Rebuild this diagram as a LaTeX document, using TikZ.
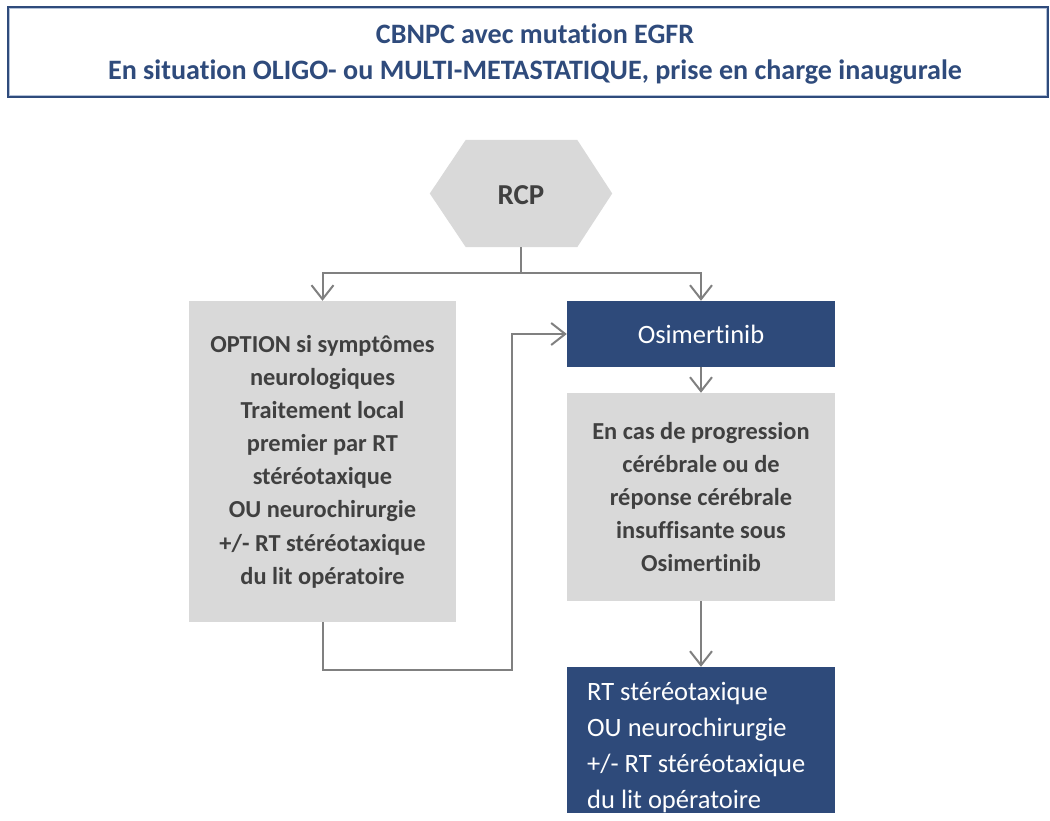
\documentclass[tikz,border=0pt]{standalone}
\usepackage{fontspec}
\setmainfont{Carlito}[Ligatures={NoCommon}]
\usetikzlibrary{arrows.meta,backgrounds,calc}
\definecolor{navy}{HTML}{2E4A7A}
\definecolor{titleblue}{HTML}{2F4B7C}
\definecolor{titlelight}{HTML}{B4C2D8}
\definecolor{boxgray}{HTML}{D9D9D9}
\definecolor{txtgray}{HTML}{404040}
\definecolor{linegray}{HTML}{808080}
\begin{document}
\begin{tikzpicture}[x=1bp,y=-1bp,
  graybox/.style={fill=boxgray, text=txtgray, font=\bfseries\fontsize{24.5}{33.3}\selectfont, align=center, inner sep=0pt},
  navybox/.style={fill=navy, text=white, font=\fontsize{26.6}{36.3}\selectfont, inner sep=0pt},
  conn/.style={draw=linegray, line width=2bp},
  arr/.style={conn, -{Straight Barb[length=14bp,width=22bp,line width=2bp]}}]
\useasboundingbox (0,0) rectangle (1050,821);
% title
\node[draw=titleblue, line width=2.5bp, minimum width=1040bp, minimum height=90bp, inner sep=0pt] (title) at (528,52) {};
\draw[titlelight, line width=1bp] ([shift={(2.5bp,-2.5bp)}]title.north west) rectangle ([shift={(-2.5bp,2.5bp)}]title.south east);
\node[text=titleblue, font=\bfseries\fontsize{28.2}{37}\selectfont, align=center, inner sep=0pt] (titletext) at (535,54) {CBNPC avec mutation EGFR\\En situation OLIGO- ou MULTI-METASTATIQUE, prise en charge inaugurale};
% RCP hexagon
\node[minimum width=182bp, minimum height=107bp, inner sep=0pt, text=txtgray, text height=23bp, font=\bfseries\fontsize{29}{34}\selectfont] (rcp) at (521,193.5) {RCP};
\begin{scope}[on background layer]
\fill[white] (0,0) rectangle (1050,821);
\fill[boxgray] (rcp.west) -- ([xshift=36bp]rcp.north west) -- ([xshift=-35bp]rcp.north east) -- (rcp.east) -- ([xshift=-35bp]rcp.south east) -- ([xshift=36bp]rcp.south west) -- cycle;
\end{scope}
% boxes
\node[graybox, minimum width=267bp, minimum height=321bp] (opt) at (322.5,461.5) {OPTION si symptômes\\neurologiques\\Traitement local\\premier par RT\\stéréotaxique\\OU neurochirurgie\\+/- RT stéréotaxique\\du lit opératoire};
\node[navybox, minimum width=268bp, minimum height=66bp] (osi) at (701,334) {Osimertinib};
\node[graybox, minimum width=268bp, minimum height=208bp] (prog) at (701,497) {En cas de progression\\cérébrale ou de\\réponse cérébrale\\insuffisante sous\\Osimertinib};
\node[navybox, minimum width=268bp, minimum height=146bp] (rt) at (701,740) {};
\node[text=white, font=\fontsize{26.6}{36.3}\selectfont, align=left, anchor=north west, inner sep=0pt] (rttext) at (587,682) {RT stéréotaxique\\OU neurochirurgie\\+/- RT stéréotaxique\\du lit opératoire};
% connectors
\draw[arr] (rcp.south) -- ++(0,26) -| (opt.north);
\draw[arr] (rcp.south) -- ++(0,26) -| (osi.north);
\coordinate (loop) at (512,670);
\draw[arr] (opt.south) |- (loop) |- (osi.west);
\draw[arr] (osi) -- (prog);
\draw[arr] (prog) -- (rt);
\end{tikzpicture}
\end{document}
